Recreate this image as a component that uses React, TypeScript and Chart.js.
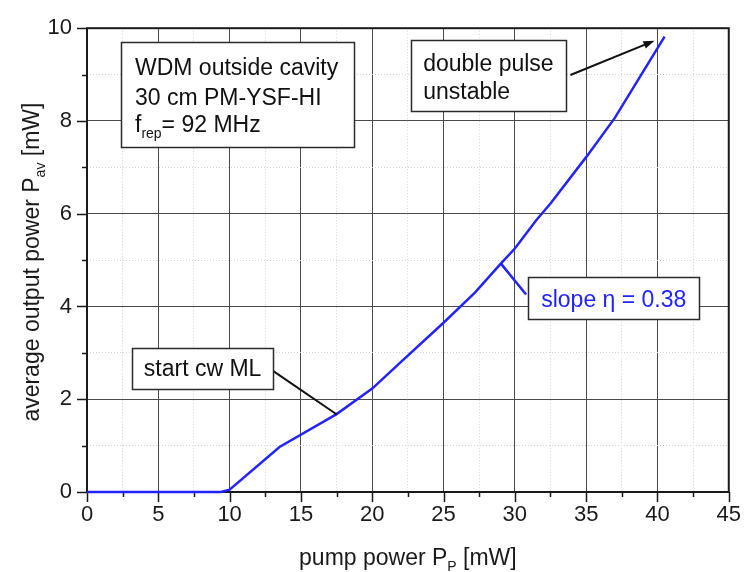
import React, { useEffect, useRef } from 'react';
import { Chart, registerables } from 'chart.js';

Chart.register(...registerables);

// ---- data ----
const pumpPower = [0, 9.4, 10, 13.5, 17.5, 20, 22, 25, 27.2, 29, 30, 31.5, 32.5, 35, 37, 40.5];
const outputPower = [0, 0, 0.05, 0.97, 1.68, 2.23, 2.8, 3.65, 4.3, 4.92, 5.25, 5.86, 6.22, 7.22, 8.06, 9.82];

const xMajorTicks = [0, 5, 10, 15, 20, 25, 30, 35, 40, 45];
const xMinorTicks = [2.5, 7.5, 12.5, 17.5, 22.5, 27.5, 32.5, 37.5, 42.5];
const yMajorTicks = [0, 2, 4, 6, 8, 10];
const yMinorTicks = [1, 3, 5, 7, 9];

const xTitle = [{ t: 'pump power P' }, { t: 'P', sub: true }, { t: ' [mW]' }];
const yTitle = [{ t: 'average output power P' }, { t: 'av', sub: true }, { t: ' [mW]' }];

// annotation boxes (corner positions in data units)
const boxSetup = [
  {
    lines: [
      [{ t: 'WDM outside cavity' }],
      [{ t: '30 cm PM-YSF-HI' }],
      [{ t: 'f' }, { t: 'rep', sub: true }, { t: '= 92 MHz' }],
    ],
    x0: 2.4, y0: 9.7, x1: 18.74, y1: 7.43,
    color: '#111',
  },
  {
    lines: [[{ t: 'double pulse' }], [{ t: 'unstable' }]],
    x0: 22.71, y0: 9.75, x1: 33.56, y1: 8.21,
    color: '#111',
  },
  {
    lines: [[{ t: 'start cw ML' }]],
    x0: 3.16, y0: 3.1, x1: 13.04, y1: 2.22,
    color: '#111',
  },
  {
    lines: [[{ t: 'slope η = 0.38' }]],
    x0: 30.95, y0: 4.63, x1: 42.9, y1: 3.73,
    color: '#2222ff',
  },
];
const boxTextStyle = [
  { dx: 13.5, baselines: [32.5, 62.5, 89.5] },
  { dx: 11.7, baselines: [30, 58.3] },
  { dx: 11.3, baselines: [27.7] },
  { dx: 12.7, baselines: [29] },
];

// pointer lines (data units)
const pointers = [
  { from: [33.9, 8.99], to: [39.79, 9.73], color: '#111', arrow: true, width: 2 },
  { from: [13.04, 2.61], to: [17.52, 1.67], color: '#111', arrow: false, width: 2 },
  { from: [29.01, 4.93], to: [30.79, 4.26], color: '#2222ff', arrow: false, width: 2.5 },
];

const FONT_FAMILY = '"Liberation Sans", Arial, Helvetica, sans-serif';
const BASE_FONT = `23px ${FONT_FAMILY}`;
const SUB_FONT = `14px ${FONT_FAMILY}`;
const SUB_DY = 6;

type Seg = { t: string; sub?: boolean };

function segWidth(ctx: CanvasRenderingContext2D, segs: Seg[]) {
  let w = 0;
  for (const s of segs) {
    ctx.font = s.sub ? SUB_FONT : BASE_FONT;
    w += ctx.measureText(s.t).width;
  }
  return w;
}

function drawRich(ctx: CanvasRenderingContext2D, segs: Seg[], x: number, y: number, center: boolean) {
  let cx = center ? x - segWidth(ctx, segs) / 2 : x;
  ctx.textAlign = 'left';
  ctx.textBaseline = 'alphabetic';
  for (const s of segs) {
    ctx.font = s.sub ? SUB_FONT : BASE_FONT;
    ctx.fillText(s.t, cx, y + (s.sub ? SUB_DY : 0));
    cx += ctx.measureText(s.t).width;
  }
}

const isMajor = (v: number, step: number) => Math.abs(v / step - Math.round(v / step)) < 1e-6;

const framePlugin = {
  id: 'frameAndTicks',
  beforeDatasetsDraw(chart: any) {
    const { ctx, chartArea: a, scales } = chart;
    const xs = scales.x;
    const ys = scales.y;
    ctx.save();
    ctx.strokeStyle = '#1a1a1a';
    ctx.lineWidth = 1.5;
    ctx.beginPath();
    for (const v of xMajorTicks) {
      const p = Math.round(xs.getPixelForValue(v)) + 0.5;
      ctx.moveTo(p, a.bottom);
      ctx.lineTo(p, a.bottom + 10);
    }
    for (const v of xMinorTicks) {
      const p = Math.round(xs.getPixelForValue(v)) + 0.5;
      ctx.moveTo(p, a.bottom);
      ctx.lineTo(p, a.bottom + 5);
    }
    for (const v of yMajorTicks) {
      const p = Math.round(ys.getPixelForValue(v)) + 0.5;
      ctx.moveTo(a.left, p);
      ctx.lineTo(a.left - 10, p);
    }
    for (const v of yMinorTicks) {
      const p = Math.round(ys.getPixelForValue(v)) + 0.5;
      ctx.moveTo(a.left, p);
      ctx.lineTo(a.left - 5, p);
    }
    ctx.stroke();
    ctx.lineWidth = 2;
    ctx.strokeStyle = '#1a1a1a';
    ctx.strokeRect(a.left, a.top, a.right - a.left, a.bottom - a.top);
    ctx.restore();
  },
  afterDatasetsDraw(chart: any) {
    const { ctx, chartArea: a, scales } = chart;
    const xs = scales.x;
    const ys = scales.y;
    ctx.save();
    // pointer lines
    for (const p of pointers) {
      const x1 = xs.getPixelForValue(p.from[0]);
      const y1 = ys.getPixelForValue(p.from[1]);
      const x2 = xs.getPixelForValue(p.to[0]);
      const y2 = ys.getPixelForValue(p.to[1]);
      ctx.strokeStyle = p.color;
      ctx.fillStyle = p.color;
      ctx.lineWidth = p.width;
      const ang = Math.atan2(y2 - y1, x2 - x1);
      const back = p.arrow ? 9 : 0;
      ctx.beginPath();
      ctx.moveTo(x1, y1);
      ctx.lineTo(x2 - back * Math.cos(ang), y2 - back * Math.sin(ang));
      ctx.stroke();
      if (p.arrow) {
        ctx.beginPath();
        ctx.moveTo(x2, y2);
        ctx.lineTo(x2 - 11 * Math.cos(ang) + 4 * Math.sin(ang), y2 - 11 * Math.sin(ang) - 4 * Math.cos(ang));
        ctx.lineTo(x2 - 11 * Math.cos(ang) - 4 * Math.sin(ang), y2 - 11 * Math.sin(ang) + 4 * Math.cos(ang));
        ctx.closePath();
        ctx.fill();
      }
    }
    // boxes
    boxSetup.forEach((b, i) => {
      const l = Math.round(xs.getPixelForValue(b.x0)) + 0.5;
      const r = Math.round(xs.getPixelForValue(b.x1)) + 0.5;
      const t = Math.round(ys.getPixelForValue(b.y0)) + 0.5;
      const bt = Math.round(ys.getPixelForValue(b.y1)) + 0.5;
      ctx.fillStyle = '#ffffff';
      ctx.fillRect(l, t, r - l, bt - t);
      ctx.strokeStyle = '#2a2a2a';
      ctx.lineWidth = 1.5;
      ctx.strokeRect(l, t, r - l, bt - t);
      ctx.fillStyle = b.color;
      const st = boxTextStyle[i];
      b.lines.forEach((line, j) => {
        drawRich(ctx, line as Seg[], l + st.dx, t + st.baselines[j], false);
      });
    });
    // axis titles
    ctx.fillStyle = '#1a1a1a';
    drawRich(ctx, xTitle, (a.left + a.right) / 2, 565, true);
    ctx.translate(39, (a.top + a.bottom) / 2 + 2);
    ctx.rotate(-Math.PI / 2);
    drawRich(ctx, yTitle, 0, 0, true);
    ctx.restore();
  },
};

export default function App() {
  const ref = useRef<HTMLCanvasElement | null>(null);
  useEffect(() => {
    if (!ref.current) return;
    const data = pumpPower.map((x, i) => ({ x, y: outputPower[i] }));
    const gridColor = (ctx: any, step: number) =>
      ctx.tick && isMajor(ctx.tick.value, step) ? '#4a4a4a' : '#d4d4d4';
    const gridDash = (ctx: any, step: number) =>
      ctx.tick && isMajor(ctx.tick.value, step) ? [] : [1, 2];
    const chart = new Chart(ref.current, {
      type: 'scatter',
      data: {
        datasets: [
          {
            data,
            showLine: true,
            borderColor: '#2323ff',
            backgroundColor: '#2323ff',
            borderWidth: 2.5,
            pointRadius: 0,
            tension: 0,
            clip: false as any,
          },
        ],
      },
      options: {
        animation: false,
        responsive: false,
        maintainAspectRatio: false,
        layout: { padding: { top: 18, right: 14, left: 0, bottom: 0 } },
        plugins: { legend: { display: false }, tooltip: { enabled: false } },
        scales: {
          x: {
            type: 'linear',
            min: 0,
            max: 45,
            afterBuildTicks: (s: any) => {
              s.ticks = [...xMajorTicks, ...xMinorTicks].sort((p, q) => p - q).map((v) => ({ value: v }));
            },
            afterFit: (s: any) => {
              s.height = 80;
            },
            ticks: {
              autoSkip: false,
              maxRotation: 0,
              padding: 10,
              color: '#1a1a1a',
              font: { size: 22, family: FONT_FAMILY },
              callback: (v: any) => (isMajor(Number(v), 5) ? String(v) : ''),
            },
            grid: {
              drawTicks: false,
              lineWidth: 1,
              color: (c: any) => gridColor(c, 5),
            },
            border: { display: false, dash: (c: any) => gridDash(c, 5) },
          },
          y: {
            type: 'linear',
            min: 0,
            max: 10,
            afterBuildTicks: (s: any) => {
              s.ticks = [...yMajorTicks, ...yMinorTicks].sort((p, q) => p - q).map((v) => ({ value: v }));
            },
            afterFit: (s: any) => {
              s.width = 87;
            },
            ticks: {
              autoSkip: false,
              padding: 15,
              color: '#1a1a1a',
              font: { size: 22, family: FONT_FAMILY },
              callback: (v: any) => (isMajor(Number(v), 2) ? String(v) : ''),
            },
            grid: {
              drawTicks: false,
              lineWidth: 1,
              color: (c: any) => gridColor(c, 2),
            },
            border: { display: false, dash: (c: any) => gridDash(c, 2) },
          },
        },
      } as any,
      plugins: [framePlugin],
    });
    return () => chart.destroy();
  }, []);
  return (
    <div style={{ position: 'absolute', left: 0, top: 0, width: 751, height: 572, background: '#fff' }}>
      <canvas ref={ref} width={751} height={572} style={{ display: 'block' }} />
    </div>
  );
}
